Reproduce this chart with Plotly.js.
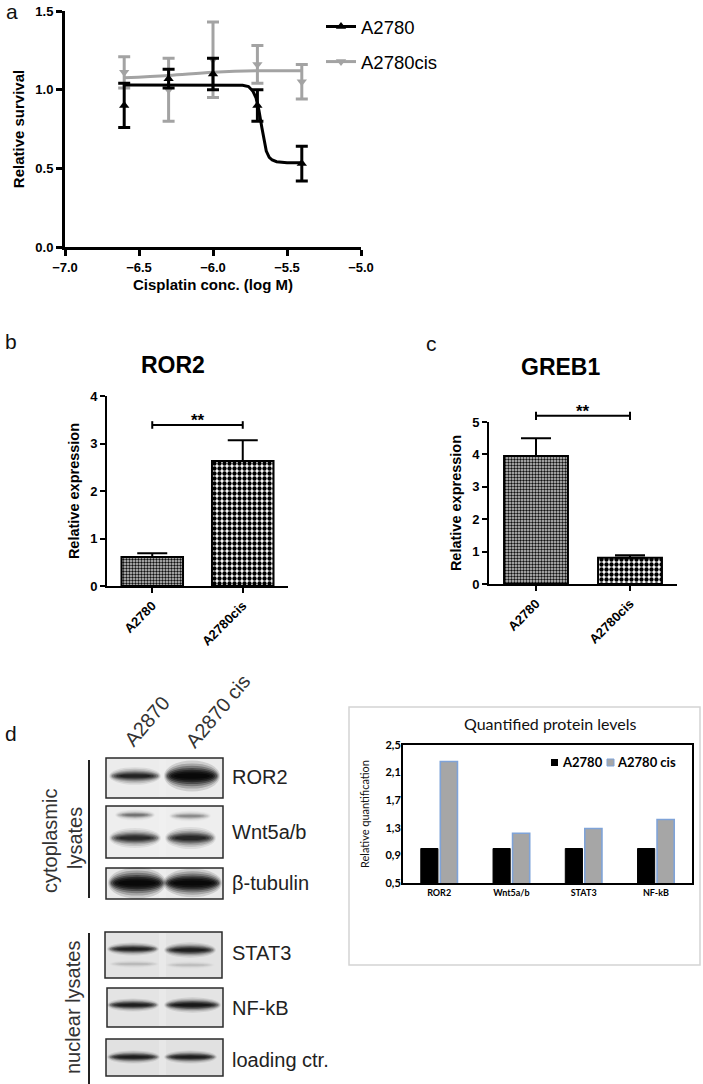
<!DOCTYPE html>
<html><head><meta charset="utf-8">
<script src="https://cdn.plot.ly/plotly-3.0.1.min.js"></script>
<style>html,body{margin:0;padding:0;background:#fff}#plot{width:703px;height:1084px}</style>
</head><body><div id="plot"></div>
<script>
// ---------- DATA ----------
// Panel a: survival
const concLog = [-6.6, -6.3, -6.0, -5.7, -5.4];
const survA2780 = [0.90, 1.07, 1.10, 0.90, 0.53];
const errA2780 = [0.14, 0.06, 0.10, 0.10, 0.11];
const survCis = [1.11, 1.00, 1.19, 1.16, 1.05];
const errCis = [0.10, 0.20, 0.24, 0.12, 0.11];
const fitA2780X = [-6.6, -6.0, -5.8, -5.76, -5.73, -5.71, -5.69, -5.67, -5.655, -5.64, -5.62, -5.60, -5.57, -5.5, -5.4];
const fitA2780Y = [1.03, 1.03, 1.028, 1.02, 0.99, 0.95, 0.87, 0.76, 0.68, 0.61, 0.57, 0.553, 0.542, 0.535, 0.535];
const fitCisX = [-6.6, -6.3, -6.0, -5.7, -5.4];
const fitCisY = [1.075, 1.09, 1.11, 1.12, 1.12];
const seriesNames = ['A2780', 'A2780cis'];
// Panels b, c
const cellLines = ['A2780', 'A2780cis'];
const ror2Expr = [0.61, 2.63];
const ror2Err = [0.08, 0.44];
const ror2SigY = 3.39;
const greb1Expr = [3.95, 0.81];
const greb1Err = [0.55, 0.08];
const greb1SigY = 5.19;
// Panel d: quantification
const proteins = ['ROR2', 'Wnt5a/b', 'STAT3', 'NF-kB'];
const quantA2780 = [1.0, 1.0, 1.0, 1.0];
const quantCis = [2.26, 1.22, 1.29, 1.42];
const quantNames = ['A2780', 'A2780 cis'];
const quantTickVals = [0.5, 0.9, 1.3, 1.7, 2.1, 2.5];
const quantTickText = ['0,5', '0,9', '1,3', '1,7', '2,1', '2,5'];
// Panel d: blot
const blotLabels = ['ROR2', 'Wnt5a/b', 'β-tubulin', 'STAT3', 'NF-kB', 'loading ctr.'];
const laneLabels = ['A2870', 'A2870 cis'];
const bandLane1 = [1.0, 0.9, 1.6, 1.0, 1.05, 1.05];
const bandLane2 = [1.6, 0.95, 1.6, 1.05, 1.15, 1.05];

// ---------- LAYOUT HELPERS ----------
const W = 703, H = 1084;
const px = v => v / W;
const py = v => 1 - v / H;
const ARIAL = 'Liberation Sans, Arial, sans-serif';
const LATO = 'Lato, sans-serif';
const BLACK = '#000';
const GRAY = '#a3a3a3';
const CISFILL = '#a6a6a6', CISLINE = '#7fa3d8';

const traces = [];
// Panel a (gray drawn first, black on top)
traces.push({x: fitCisX, y: fitCisY, mode: 'lines', line: {color: GRAY, width: 3, shape: 'spline'}, xaxis: 'x', yaxis: 'y', showlegend: false, hoverinfo: 'skip'});
traces.push({x: concLog, y: survCis, mode: 'markers', marker: {symbol: 'triangle-down', size: 9, color: GRAY},
  error_y: {type: 'data', array: errCis, color: GRAY, thickness: 3, width: 6}, xaxis: 'x', yaxis: 'y', showlegend: false});
traces.push({x: fitA2780X, y: fitA2780Y, mode: 'lines', line: {color: BLACK, width: 3}, xaxis: 'x', yaxis: 'y', showlegend: false, hoverinfo: 'skip'});
traces.push({x: concLog, y: survA2780, mode: 'markers', marker: {symbol: 'triangle-up', size: 9, color: BLACK},
  error_y: {type: 'data', array: errA2780, color: BLACK, thickness: 3, width: 6}, xaxis: 'x', yaxis: 'y', showlegend: false});
traces.push({x: [null], y: [null], name: seriesNames[0], mode: 'lines+markers', line: {color: BLACK, width: 3}, marker: {symbol: 'triangle-up', size: 9, color: BLACK}, xaxis: 'x', yaxis: 'y', legendgroup: 'g1', legendrank: 1});
traces.push({x: [null], y: [null], name: seriesNames[1], mode: 'lines+markers', line: {color: GRAY, width: 3}, marker: {symbol: 'triangle-down', size: 9, color: GRAY}, xaxis: 'x', yaxis: 'y', legendgroup: 'g2', legendrank: 2});

// Panels b, c: one trace per bar so each gets its own fill pattern
const patterns = [
  {shape: '.', size: 3, solidity: 0.5, fgcolor: '#111', bgcolor: '#cfcfcf', fillmode: 'replace'},
  {shape: '.', size: 5, solidity: 0.6, fgcolor: '#000', bgcolor: '#ffffff', fillmode: 'replace'}
];
function exprBars(vals, errs, xa, ya) {
  return cellLines.map((c, i) => ({type: 'bar', x: [c], y: [vals[i]], width: 0.68, offsetgroup: 'e', xaxis: xa, yaxis: ya, showlegend: false,
    marker: {color: patterns[i].bgcolor, line: {color: BLACK, width: 2}, pattern: patterns[i]},
    error_y: {type: 'data', symmetric: false, array: [errs[i]], arrayminus: [0], color: BLACK, thickness: 2, width: 15}}));
}
traces.push(...exprBars(ror2Expr, ror2Err, 'x2', 'y2'));
traces.push(...exprBars(greb1Expr, greb1Err, 'x3', 'y3'));

// Panel d quantification
traces.push({type: 'bar', x: proteins, y: quantA2780, name: quantNames[0], marker: {color: BLACK, line: {color: BLACK, width: 1}}, xaxis: 'x4', yaxis: 'y4', showlegend: false});
traces.push({type: 'bar', x: proteins, y: quantCis, name: quantNames[1], marker: {color: CISFILL, line: {color: CISLINE, width: 1.6}}, xaxis: 'x4', yaxis: 'y4', showlegend: false});

const tickBold = s => ({family: ARIAL, size: s, color: BLACK, weight: 'bold'});
const shapes = [];
const annotations = [];
function note(x, y, text, font, extra) {
  annotations.push(Object.assign({xref: 'paper', yref: 'paper', x: px(x), y: py(y), text: text, showarrow: false, xanchor: 'center', yanchor: 'middle', font: font}, extra || {}));
}

// significance brackets
shapes.push({type: 'line', xref: 'x2', yref: 'y2', x0: 0, x1: 1, y0: ror2SigY, y1: ror2SigY, line: {color: BLACK, width: 2}});
shapes.push({type: 'line', xref: 'x2', yref: 'y2', x0: 0, x1: 0, y0: ror2SigY - 0.08, y1: ror2SigY + 0.08, line: {color: BLACK, width: 2}});
shapes.push({type: 'line', xref: 'x2', yref: 'y2', x0: 1, x1: 1, y0: ror2SigY - 0.08, y1: ror2SigY + 0.08, line: {color: BLACK, width: 2}});
annotations.push({xref: 'x2', yref: 'y2', x: 0.5, y: ror2SigY, xanchor: 'center', yanchor: 'bottom', text: '**', showarrow: false, font: {family: ARIAL, size: 17, color: BLACK, weight: 'bold'}, yshift: -7});
const gY = greb1SigY / 5;
shapes.push({type: 'line', xref: 'x3', yref: 'y3 domain', x0: 0, x1: 1, y0: gY, y1: gY, line: {color: BLACK, width: 2}});
shapes.push({type: 'line', xref: 'x3', yref: 'y3 domain', x0: 0, x1: 0, y0: gY - 0.025, y1: gY + 0.025, line: {color: BLACK, width: 2}});
shapes.push({type: 'line', xref: 'x3', yref: 'y3 domain', x0: 1, x1: 1, y0: gY - 0.025, y1: gY + 0.025, line: {color: BLACK, width: 2}});
annotations.push({xref: 'x3', yref: 'y3 domain', x: 0.5, y: gY, xanchor: 'center', yanchor: 'bottom', text: '**', showarrow: false, font: {family: ARIAL, size: 17, color: BLACK, weight: 'bold'}, yshift: -7});

// titles / panel letters
note(173, 365, 'ROR2', {family: ARIAL, size: 23, color: BLACK, weight: 'bold'});
note(560, 367, 'GREB1', {family: ARIAL, size: 23, color: BLACK, weight: 'bold'});
[['a', 12, 12], ['b', 11, 341], ['c', 431, 343], ['d', 11, 733]].forEach(([t, x, y]) => note(x, y, t, {family: ARIAL, size: 21, color: '#111'}));

// quantified outer box + title + custom legend
shapes.push({type: 'rect', xref: 'paper', yref: 'paper', x0: px(349), x1: px(700), y0: py(965), y1: py(707), line: {color: '#d4d4d4', width: 1.5}, layer: 'below'});
note(550, 724, 'Quantified protein levels', {family: LATO, size: 16, color: '#111'});
shapes.push({type: 'rect', xref: 'paper', yref: 'paper', x0: px(551), x1: px(558), y0: py(766), y1: py(759), fillcolor: BLACK, line: {width: 0}});
note(560, 762, quantNames[0], {family: LATO, size: 13, color: BLACK, weight: 'bold'}, {xanchor: 'left'});
shapes.push({type: 'rect', xref: 'paper', yref: 'paper', x0: px(607), x1: px(614), y0: py(766), y1: py(759), fillcolor: CISFILL, line: {color: CISLINE, width: 1}});
note(615, 762, quantNames[1], {family: LATO, size: 13, color: BLACK, weight: 'bold'}, {xanchor: 'left'});

// ---------- BLOT ----------
const boxes = [
  {x0: 106, x1: 223, y0: 758, y1: 798, fill: '#ececec'},
  {x0: 106, x1: 223, y0: 806, y1: 858, fill: '#eeeeee'},
  {x0: 106, x1: 223, y0: 868, y1: 899, fill: '#eaeaea'},
  {x0: 105, x1: 222, y0: 932, y1: 978, fill: '#e3e3e3'},
  {x0: 107, x1: 223, y0: 988, y1: 1027, fill: '#e4e4e4'},
  {x0: 106, x1: 223, y0: 1039, y1: 1076, fill: '#e1e1e1'}
];
const bandGeo = [
  [{x0: 112, x1: 158, y: 776, h: 8}, {x0: 167, x1: 217, y: 776, h: 14}],
  [{x0: 112, x1: 158, y: 838, h: 9}, {x0: 168, x1: 213, y: 838, h: 10}],
  [{x0: 111, x1: 163, y: 883, h: 14}, {x0: 166, x1: 219, y: 883, h: 13}],
  [{x0: 110, x1: 156, y: 949, h: 6}, {x0: 167, x1: 213, y: 950, h: 7}],
  [{x0: 110, x1: 156, y: 1005, h: 6}, {x0: 167, x1: 218, y: 1005, h: 7}],
  [{x0: 110, x1: 157, y: 1057, h: 6}, {x0: 167, x1: 214, y: 1057, h: 6}]
];
const labelY = [777, 832, 883, 953, 1008, 1060];
function band(b, inten) {
  const layers = [[3, 2.2, 0.08], [2, 1.8, 0.12], [1, 1.45, 0.17], [0, 1.15, 0.24], [-2, 0.9, 0.3], [-4, 0.65, 0.36], [-7, 0.4, 0.42]];
  layers.forEach(([dx, hs, op]) => {
    const hh = b.h * hs / 2;
    shapes.push({type: 'circle', xref: 'paper', yref: 'paper', x0: px(b.x0 - dx), x1: px(b.x1 + dx),
      y0: py(b.y + hh), y1: py(b.y - hh), fillcolor: '#050505', opacity: Math.min(1, op * inten), line: {width: 0}});
  });
}
boxes.forEach((bx, i) => {
  shapes.push({type: 'rect', xref: 'paper', yref: 'paper', x0: px(bx.x0), x1: px(bx.x1), y0: py(bx.y1), y1: py(bx.y0), fillcolor: bx.fill, line: {color: '#2a2a2a', width: 1.5}});
  shapes.push({type: 'rect', xref: 'paper', yref: 'paper', x0: px(159), x1: px(166), y0: py(bx.y1 - 1), y1: py(bx.y0 + 1), fillcolor: '#f4f4f4', opacity: 0.35, line: {width: 0}});
  band(bandGeo[i][0], bandLane1[i]);
  band(bandGeo[i][1], bandLane2[i]);
  note(230, labelY[i], blotLabels[i], {family: ARIAL, size: 20, color: '#222'}, {xanchor: 'left'});
});
band({x0: 118, x1: 152, y: 815, h: 5}, 0.4);
band({x0: 172, x1: 208, y: 816, h: 5}, 0.3);
band({x0: 112, x1: 156, y: 964, h: 4}, 0.12);
band({x0: 168, x1: 212, y: 965, h: 4}, 0.1);
// lane labels
note(147, 721, laneLabels[0], {family: ARIAL, size: 20, color: '#333'}, {textangle: -50});
note(218, 711, laneLabels[1], {family: ARIAL, size: 20, color: '#333'}, {textangle: -50});
// group brackets
shapes.push({type: 'line', xref: 'paper', yref: 'paper', x0: px(89), x1: px(89), y0: py(760), y1: py(898), line: {color: '#222', width: 2}});
shapes.push({type: 'line', xref: 'paper', yref: 'paper', x0: px(89), x1: px(89), y0: py(933), y1: py(1084), line: {color: '#222', width: 2}});
note(50, 841, 'cytoplasmic', {family: ARIAL, size: 20, color: '#333'}, {textangle: -90});
note(75, 838, 'lysates', {family: ARIAL, size: 20, color: '#333'}, {textangle: -90});
note(73, 1008, 'nuclear lysates', {family: ARIAL, size: 20, color: '#333'}, {textangle: -90});

const exprTitle = {text: 'Relative expression', font: {family: ARIAL, size: 14.5, color: BLACK, weight: 'bold'}, standoff: 7};
const layout = {
  width: W, height: H, margin: {l: 0, r: 0, t: 0, b: 0}, paper_bgcolor: '#fff', plot_bgcolor: 'rgba(0,0,0,0)',
  showlegend: true, barmode: 'group', bargap: 0.46, bargroupgap: 0.12,
  font: {family: ARIAL, color: BLACK},
  xaxis: {domain: [px(65), px(361)], anchor: 'y', range: [-7, -5], dtick: 0.5, tickformat: '.1f', showline: true, linewidth: 3, linecolor: BLACK,
    ticks: 'outside', ticklen: 6, tickwidth: 3, tickcolor: BLACK, showgrid: false, zeroline: false, tickfont: tickBold(13),
    title: {text: 'Cisplatin conc. (log M)', font: {family: ARIAL, size: 15, color: BLACK, weight: 'bold'}, standoff: 6}},
  yaxis: {domain: [py(247), py(11)], anchor: 'x', range: [0, 1.5], dtick: 0.5, tickformat: '.1f', showline: true, linewidth: 3, linecolor: BLACK,
    ticks: 'outside', ticklen: 6, tickwidth: 3, tickcolor: BLACK, showgrid: false, zeroline: false, tickfont: tickBold(13),
    title: {text: 'Relative survival', font: {family: ARIAL, size: 15, color: BLACK, weight: 'bold'}, standoff: 8}},
  xaxis2: {domain: [px(107), px(288)], anchor: 'y2', type: 'category', range: [-0.5, 1.5], showline: true, linewidth: 2, linecolor: BLACK,
    ticks: 'outside', ticklen: 5, tickwidth: 2, tickcolor: BLACK, tickangle: -45, tickfont: tickBold(13), showgrid: false},
  yaxis2: {domain: [py(586), py(396)], anchor: 'x2', range: [0, 4], dtick: 1, showline: true, linewidth: 2, linecolor: BLACK,
    ticks: 'outside', ticklen: 5, tickwidth: 2, tickcolor: BLACK, tickfont: tickBold(13), showgrid: false, zeroline: false, title: exprTitle},
  xaxis3: {domain: [px(489), px(677)], anchor: 'y3', type: 'category', range: [-0.5, 1.5], showline: true, linewidth: 2, linecolor: BLACK,
    ticks: 'outside', ticklen: 5, tickwidth: 2, tickcolor: BLACK, tickangle: -45, tickfont: tickBold(13), showgrid: false},
  yaxis3: {domain: [py(584), py(422)], anchor: 'x3', range: [0, 5], dtick: 1, showline: true, linewidth: 2, linecolor: BLACK,
    ticks: 'outside', ticklen: 5, tickwidth: 2, tickcolor: BLACK, tickfont: tickBold(13), showgrid: false, zeroline: false, title: exprTitle},
  xaxis4: {domain: [px(403), px(692)], anchor: 'y4', type: 'category', showline: true, mirror: true, linewidth: 2, linecolor: BLACK,
    ticks: '', tickfont: {family: LATO, size: 9, color: BLACK, weight: 'bold'}, showgrid: false},
  yaxis4: {domain: [py(883), py(745)], anchor: 'x4', range: [0.5, 2.5], tickvals: quantTickVals, ticktext: quantTickText, showline: true, mirror: true, linewidth: 2, linecolor: BLACK,
    ticks: '', tickfont: {family: LATO, size: 11, color: BLACK, weight: 'bold'}, showgrid: false, zeroline: false, ticklabelstandoff: -2,
    title: {text: 'Relative quantification', font: {family: LATO, size: 11, color: '#111'}, standoff: 14}},
  legend: {x: px(321), y: py(8), xanchor: 'left', yanchor: 'top', font: {family: ARIAL, size: 18.5, color: BLACK}, bgcolor: 'rgba(0,0,0,0)', tracegroupgap: 8},
  shapes: shapes, annotations: annotations
};
Plotly.newPlot('plot', traces, layout, {staticPlot: true});
</script></body></html>
